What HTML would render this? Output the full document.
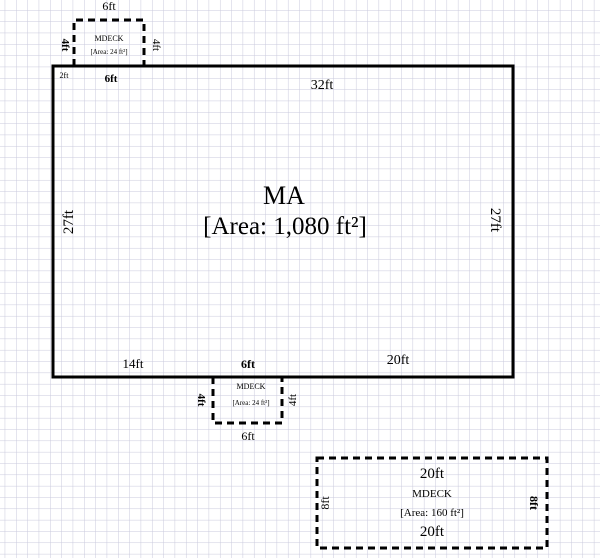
<!DOCTYPE html>
<html><head><style>body{margin:0;background:#fff}svg{display:block}</style></head>
<body>
<svg width="600" height="558" viewBox="0 0 600 558" xmlns="http://www.w3.org/2000/svg" font-family="Liberation Serif, serif">
<defs>
<pattern id="g" x="4.7" y="-1.3" width="11.33" height="11.33" patternUnits="userSpaceOnUse">
<path d="M0 0H11.33M0 0V11.33" stroke="#c9c9dc" stroke-width="1" fill="none"/>
</pattern>
</defs>
<rect width="600" height="558" fill="#fff"/>
<rect width="600" height="558" fill="url(#g)"/>
<g fill="none" stroke="#000" stroke-width="3">
<rect x="53" y="66" width="460" height="311"/>
<path d="M74 66V20H144V66" stroke-dasharray="7,5"/>
<path d="M213 377V423H282V377" stroke-dasharray="7,5"/>
<rect x="317" y="458" width="230" height="90" stroke-dasharray="7,5"/>
</g>
<g fill="#000" text-anchor="middle">
<text x="109" y="10" font-size="12">6ft</text>
<text x="109" y="41" font-size="8">MDECK</text>
<text x="109" y="54" font-size="7">[Area: 24 ft²]</text>
<text x="111" y="82" font-size="11" font-weight="bold">6ft</text>
<text x="64" y="78" font-size="8">2ft</text>
<text x="0" y="0" font-size="11" font-weight="bold" transform="translate(62,45) rotate(90)">4ft</text>
<text x="0" y="0" font-size="11" transform="translate(153,45) rotate(90)">4ft</text>
<text x="322" y="89" font-size="14">32ft</text>
<text x="284" y="204" font-size="26">MA</text>
<text x="285" y="234" font-size="25">[Area: 1,080 ft²]</text>
<text x="0" y="0" font-size="15" transform="translate(73,222) rotate(-90)">27ft</text>
<text x="0" y="0" font-size="15" transform="translate(491,220) rotate(90)">27ft</text>
<text x="133" y="368" font-size="13">14ft</text>
<text x="248" y="368" font-size="12" font-weight="bold">6ft</text>
<text x="398" y="364" font-size="14">20ft</text>
<text x="251" y="389" font-size="8">MDECK</text>
<text x="251" y="405" font-size="7">[Area: 24 ft²]</text>
<text x="248" y="440" font-size="12">6ft</text>
<text x="0" y="0" font-size="11" font-weight="bold" transform="translate(198,400) rotate(90)">4ft</text>
<text x="0" y="0" font-size="11" transform="translate(296,400) rotate(-90)">4ft</text>
<text x="432" y="478" font-size="15">20ft</text>
<text x="432" y="497" font-size="11">MDECK</text>
<text x="432" y="516" font-size="11">[Area: 160 ft²]</text>
<text x="432" y="536" font-size="15">20ft</text>
<text x="0" y="0" font-size="12" transform="translate(329,503) rotate(-90)">8ft</text>
<text x="0" y="0" font-size="12" font-weight="bold" transform="translate(530,503) rotate(90)">8ft</text>
</g>
</svg>
</body></html>
